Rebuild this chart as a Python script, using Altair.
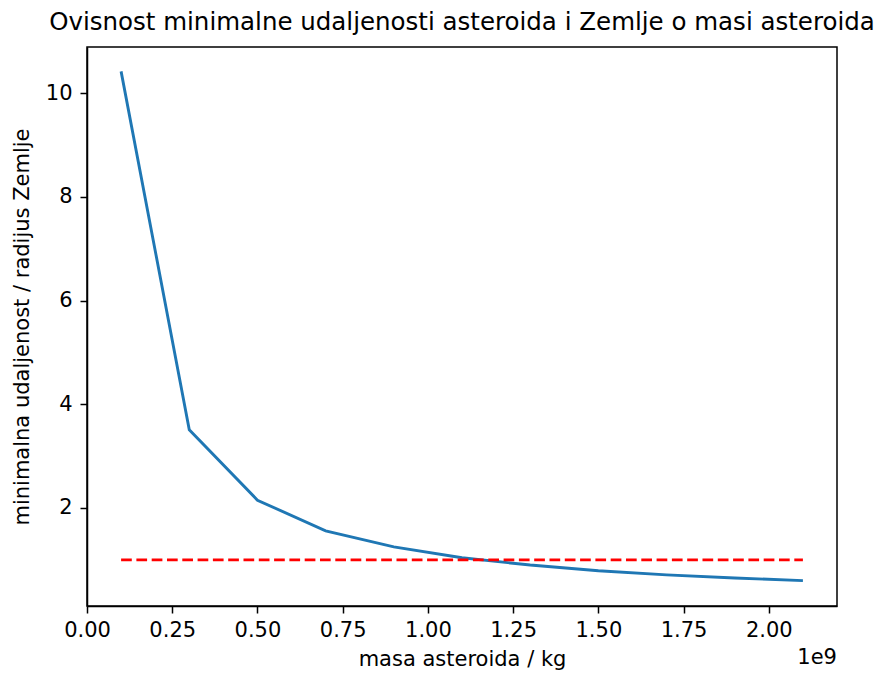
import altair as alt
import pandas as pd

# masa asteroida in units of 1e9 kg
mass = [0.1, 0.3, 0.5, 0.7, 0.9, 1.1, 1.3, 1.5, 1.7, 1.9, 2.1]
# minimalna udaljenost / radijus Zemlje
dist = [10.42, 3.51, 2.15, 1.56, 1.25, 1.04, 0.90, 0.79, 0.71, 0.65, 0.60]

ref_x = [0.1, 2.1]
ref_y = [1.0, 1.0]

x_ticks = [0.0, 0.25, 0.5, 0.75, 1.0, 1.25, 1.5, 1.75, 2.0]
y_ticks = [2, 4, 6, 8, 10]

W, H = 750, 559
FONT = "DejaVu Sans"
FS = 21

df = pd.DataFrame({"m": mass, "d": dist})
ref = pd.DataFrame({"m": ref_x, "d": ref_y})

xscale = alt.Scale(domain=[0, 2.2], nice=False, zero=False)
yscale = alt.Scale(domain=[0.11, 10.89], nice=False, zero=False)

xaxis = alt.Axis(values=x_ticks, format=".2f", title="masa asteroida / kg",
                 grid=False, tickSize=7, tickWidth=1.5, tickColor="black",
                 domainColor="black", domainWidth=1.5, labelFontSize=FS,
                 labelFont=FONT, labelColor="black", labelPadding=6,
                 labelFlush=False, labelOverlap=False,
                 titleFont=FONT, titleFontSize=FS, titleFontWeight="normal",
                 titleColor="black", titlePadding=8)
yaxis = alt.Axis(values=y_ticks, format="d",
                 title="minimalna udaljenost / radijus Zemlje",
                 grid=False, tickSize=7, tickWidth=1.5, tickColor="black",
                 domainColor="black", domainWidth=1.5, labelFontSize=FS,
                 labelFont=FONT, labelColor="black", labelPadding=8,
                 labelFlush=False, labelOverlap=False,
                 titleFont=FONT, titleFontSize=FS, titleFontWeight="normal",
                 titleColor="black", titlePadding=13)

line = alt.Chart(df).mark_line(color="#1f77b4", strokeWidth=2.9).encode(
    x=alt.X("m:Q", scale=xscale, axis=xaxis),
    y=alt.Y("d:Q", scale=yscale, axis=yaxis),
)

refline = alt.Chart(ref).mark_line(color="red", strokeWidth=2.9,
                                   strokeDash=[10.7, 4.6]).encode(
    x=alt.X("m:Q", scale=xscale),
    y=alt.Y("d:Q", scale=yscale),
)

offset_txt = alt.Chart(pd.DataFrame({"t": ["1e9"]})).mark_text(
    align="right", baseline="middle", fontSize=FS, font=FONT, color="black"
).encode(x=alt.value(W), y=alt.value(H + 52), text="t:N")

chart = (line + refline + offset_txt).properties(
    width=W, height=H,
    background="white",
    title=alt.TitleParams(
        "Ovisnost minimalne udaljenosti asteroida i Zemlje o masi asteroida",
        font=FONT, fontSize=24.5, fontWeight="normal", color="black",
        anchor="middle", frame="group", baseline="alphabetic", offset=12,
        dy=19),
    autosize=alt.AutoSizeParams(type="none"),
    padding={"left": 79, "top": 39, "right": 44, "bottom": 64},
).configure_view(stroke="black", strokeWidth=1.5, strokeOpacity=1)

chart.save("out.html", embed_options={"renderer": "svg", "actions": False})
